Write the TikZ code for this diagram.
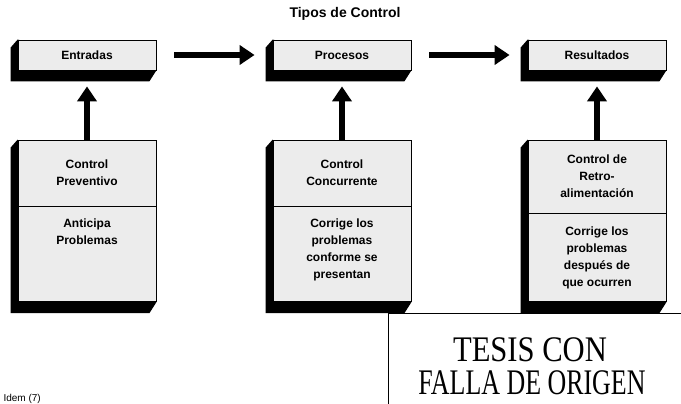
\documentclass[tikz,border=0pt]{standalone}
\usepackage{fontspec}
\setmainfont{Liberation Sans}
\newfontfamily\stampfont{Liberation Serif}
\usetikzlibrary{arrows.meta,positioning,backgrounds}

% 3D slab behind a pair of stacked boxes (top node, bottom node)
\newcommand{\slab}[2]{%
  \fill (#1.north west) -- ++(-7,8) -- ([shift={(-7,11)}]#2.south west)
    -- ([shift={(-7,11)}]#2.south east) -- (#2.south east) -- cycle;}

\tikzset{
  caja/.style={draw=black, fill=gray!15, thick, inner sep=0pt, align=center,
    font=\bfseries\fontsize{12}{17}\selectfont, minimum width=138pt},
  flecha/.style={line width=6pt, -{Triangle[length=15pt,width=19pt]}},
}

\begin{document}
\begin{tikzpicture}[x=1pt,y=-1pt]
	\useasboundingbox (0,0) rectangle (681,404);

	\node[font=\bfseries\fontsize{14}{16}\selectfont] (titulo) at (345,14) {Tipos de Control};

	% top row
	\node[caja, minimum height=30pt] (ent) at (87,55)  {Entradas};
	\node[caja, minimum height=30pt] (pro) at (342,55) {Procesos};
	\node[caja, minimum height=30pt] (res) at (597,55) {Resultados};

	% bottom row
	\node[caja, minimum height=66pt] (prevA) at (87,173)  {Control\\Preventivo};
	\node[caja, minimum height=95pt, below=0pt of prevA] (prevB) {Anticipa\\Problemas\\[28pt]};
	\node[caja, minimum height=66pt] (concA) at (342,173) {Control\\Concurrente};
	\node[caja, minimum height=95pt, below=0pt of concA] (concB) {Corrige los\\problemas\\conforme se\\presentan\\[-6pt]};
	\node[caja, minimum height=73pt] (retA) at (597,176.5) {Control de\\Retro-\\alimentación};
	\node[caja, minimum height=88pt, below=0pt of retA] (retB) {Corrige los\\problemas\\después de\\que ocurren};

	\begin{pgfonlayer}{background}
		\slab{ent}{ent}
		\slab{pro}{pro}
		\slab{res}{res}
		\slab{prevA}{prevB}
		\slab{concA}{concB}
		\slab{retA}{retB}
	\end{pgfonlayer}

	% arrows
	\draw[flecha] ([xshift=18pt]ent.east) -- ([xshift=-18pt]pro.west);
	\draw[flecha] ([xshift=18pt]pro.east) -- ([xshift=-18pt]res.west);
	\draw[flecha] (prevA.north) -- ([yshift=-16pt]ent.south);
	\draw[flecha] (concA.north) -- ([yshift=-16pt]pro.south);
	\draw[flecha] (retA.north) -- ([yshift=-16pt]res.south);

	% stamp
	\coordinate (selloA) at (388,404);
	\coordinate (selloB) at (388,313);
	\coordinate (selloC) at (681,313);
	\draw[thick] (selloA) -- (selloB) -- (selloC);
	\node[font=\stampfont\fontsize{36}{36}\selectfont] (sello1) at (530,350) {\scalebox{0.85}[1]{TESIS CON}};
	\node[font=\stampfont\fontsize{36}{36}\selectfont] (sello2) at (532,383) {\scalebox{0.72}[1]{FALLA DE ORIGEN}};

	\node[anchor=west, font=\fontsize{10}{12}\selectfont] (fuente) at (0,399) {Idem (7)};
\end{tikzpicture}
\end{document}
